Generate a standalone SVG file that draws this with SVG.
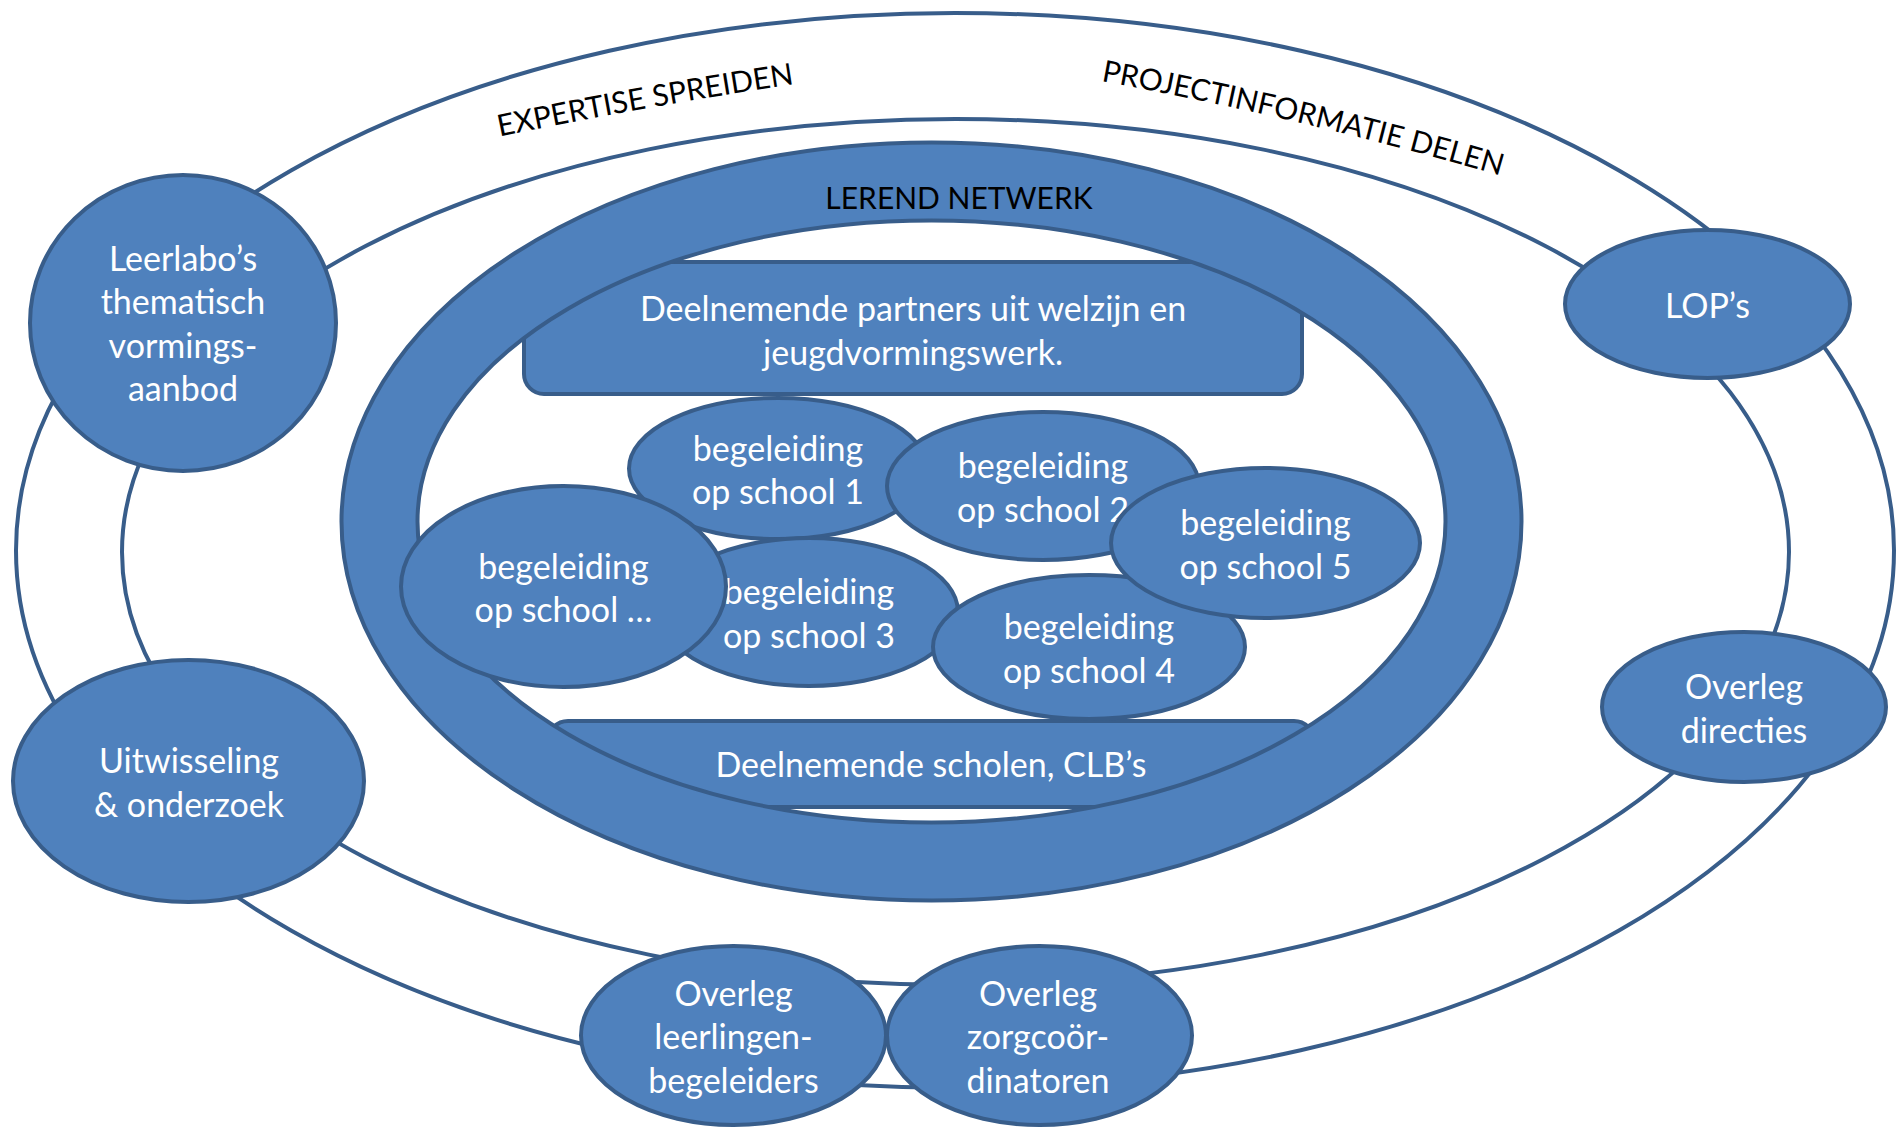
<svg xmlns="http://www.w3.org/2000/svg" width="1897" height="1128" viewBox="0 0 1897 1128">
<style>
.n{fill:#4F81BD;stroke:#385D8A;stroke-width:4}
.c{fill:none;stroke:#385D8A;stroke-width:4}
.t{font-family:Lato,"Open Sans",sans-serif;font-size:34px;fill:#FFFFFF;text-anchor:middle}
.k{font-family:Lato,"Open Sans",sans-serif;font-size:30px;fill:#000000;text-anchor:middle}
</style>
<defs>
<path id="arcL" d="M440.1 149.3 Q629.7 107.3 854.5 75.1"/>
<path id="arcR" d="M1017.5 67 Q1286.9 109 1581.7 200"/>
</defs>
<rect width="1897" height="1128" fill="#FFFFFF"/>
<g id="connectors">
<ellipse class="c" cx="955" cy="550.5" rx="939" ry="537.5"/>
<ellipse class="c" cx="955.5" cy="552" rx="833.5" ry="433"/>
</g>
<g id="labels">
<text class="k"><textPath href="#arcL" startOffset="50%">EXPERTISE SPREIDEN</textPath></text>
<text class="k"><textPath href="#arcR" startOffset="50%">PROJECTINFORMATIE DELEN</textPath></text>
</g>
<g id="partners">
<rect class="n" x="524" y="262" width="778" height="132" rx="20"/>
<text class="t" x="913" y="321">Deelnemende partners uit welzijn en</text>
<text class="t" x="913" y="364.5">jeugdvormingswerk.</text>
</g>
<g id="scholen">
<rect class="n" x="548" y="721" width="766" height="86" rx="20"/>
<text class="t" x="931" y="776.5">Deelnemende scholen, CLB’s</text>
</g>
<g id="lerend-netwerk">
<path class="n" fill-rule="evenodd" d="M341.5 521.5a590 379 0 1 0 1180 0a590 379 0 1 0 -1180 0ZM417.5 521.5a514 301 0 1 0 1028 0a514 301 0 1 0 -1028 0Z"/>
<text class="k" x="959" y="209">LEREND NETWERK</text>
</g>
<g id="school1">
<ellipse class="n" cx="778" cy="468.5" rx="149" ry="70.5"/>
<text class="t" x="778" y="460.5">begeleiding</text>
<text class="t" x="778" y="504">op school 1</text>
</g>
<g id="school2">
<ellipse class="n" cx="1043" cy="486" rx="156" ry="74"/>
<text class="t" x="1043" y="478">begeleiding</text>
<text class="t" x="1043" y="521.5">op school 2</text>
</g>
<g id="school3">
<ellipse class="n" cx="809" cy="612" rx="149" ry="74"/>
<text class="t" x="809" y="604">begeleiding</text>
<text class="t" x="809" y="647.5">op school 3</text>
</g>
<g id="school4">
<ellipse class="n" cx="1089" cy="647" rx="156" ry="72"/>
<text class="t" x="1089" y="639">begeleiding</text>
<text class="t" x="1089" y="682.5">op school 4</text>
</g>
<g id="school5">
<ellipse class="n" cx="1265.5" cy="543" rx="154.5" ry="75"/>
<text class="t" x="1265.5" y="535">begeleiding</text>
<text class="t" x="1265.5" y="578.5">op school 5</text>
</g>
<g id="school-etc">
<ellipse class="n" cx="563.5" cy="586.5" rx="162.5" ry="100.5"/>
<text class="t" x="563.5" y="578.5">begeleiding</text>
<text class="t" x="563.5" y="622">op school …</text>
</g>
<g id="leerlabos">
<ellipse class="n" cx="183" cy="323" rx="153" ry="148"/>
<text class="t" x="183" y="270.5">Leerlabo’s</text>
<text class="t" x="183" y="314">thematisch</text>
<text class="t" x="183" y="357.5">vormings-</text>
<text class="t" x="183" y="401">aanbod</text>
</g>
<g id="lops">
<ellipse class="n" cx="1707.5" cy="304" rx="142.5" ry="74"/>
<text class="t" x="1707.5" y="318">LOP’s</text>
</g>
<g id="overleg-directies">
<ellipse class="n" cx="1744" cy="707" rx="142" ry="75"/>
<text class="t" x="1744" y="699">Overleg</text>
<text class="t" x="1744" y="742.5">directies</text>
</g>
<g id="uitwisseling">
<ellipse class="n" cx="188.5" cy="781" rx="175.5" ry="121"/>
<text class="t" x="189" y="773">Uitwisseling</text>
<text class="t" x="189" y="816.5">&amp; onderzoek</text>
</g>
<g id="overleg-leerlingenbegeleiders">
<ellipse class="n" cx="733.5" cy="1035.5" rx="152.5" ry="89.5"/>
<text class="t" x="733.5" y="1005.5">Overleg</text>
<text class="t" x="733.5" y="1049">leerlingen-</text>
<text class="t" x="733.5" y="1092.5">begeleiders</text>
</g>
<g id="overleg-zorgcoordinatoren">
<ellipse class="n" cx="1039.5" cy="1035.5" rx="152.5" ry="89.5"/>
<text class="t" x="1038" y="1005.5">Overleg</text>
<text class="t" x="1038" y="1049">zorgcoör-</text>
<text class="t" x="1038" y="1092.5">dinatoren</text>
</g>
</svg>
